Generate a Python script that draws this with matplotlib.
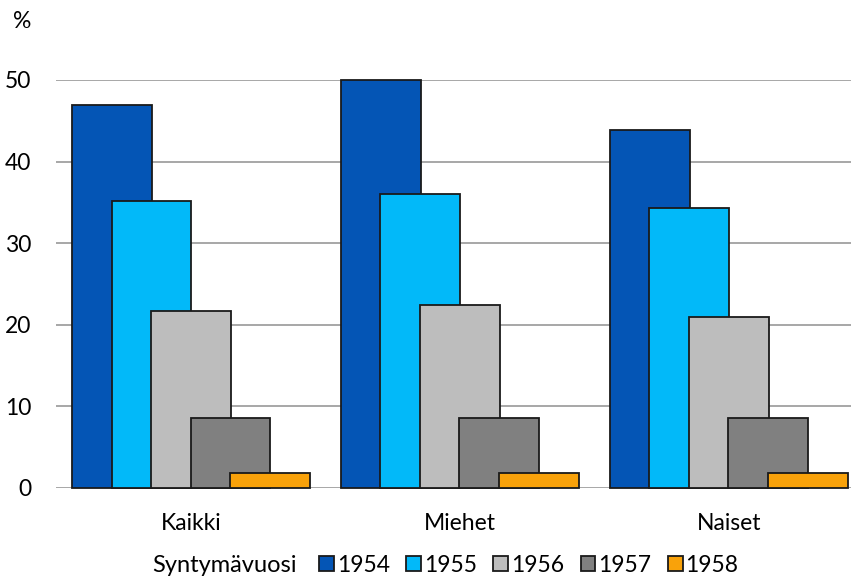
import numpy as np
import matplotlib.pyplot as plt

plt.rcParams['font.family'] = ['Lato', 'DejaVu Sans']

# data
groups = ['Kaikki', 'Miehet', 'Naiset']
years = ['1954', '1955', '1956', '1957', '1958']
vals_1954 = [46.9, 50.0, 43.9]
vals_1955 = [35.2, 36.0, 34.3]
vals_1956 = [21.7, 22.4, 21.0]
vals_1957 = [8.6, 8.6, 8.6]
vals_1958 = [1.8, 1.8, 1.8]
colors = ['#0455B5', '#02B9F9', '#BDBDBD', '#808080', '#F9A20A']

series = [vals_1954, vals_1955, vals_1956, vals_1957, vals_1958]
fs = 16.5

fig = plt.figure(figsize=(8.52, 5.78), dpi=100)
ax = fig.add_axes([56 / 852, 90 / 578, (851 - 56) / 852, (488 - 80) / 578])

x = np.arange(len(groups))
width = 0.297
step = 0.147

# later bars drawn on top of earlier ones (overlapping)
for i, (vals, col, yr) in enumerate(zip(series, colors, years)):
    ax.bar(x + (i - 2) * step, vals, width=width, color=col, edgecolor='#1a1a1a',
           linewidth=1.3, label=yr, zorder=3 + i, clip_on=False)

ax.set_xlim(-0.502, 2.455)
ax.set_ylim(0, 50)
ax.set_yticks([0, 10, 20, 30, 40, 50])
ax.yaxis.grid(True, color='#a0a0a0', linewidth=1.3, zorder=0)
ax.set_xticks(x)
ax.set_xticklabels(groups)
ax.tick_params(axis='both', length=0, labelsize=fs)
ax.tick_params(axis='y', pad=18)
ax.tick_params(axis='x', pad=18)
for s in ax.spines.values():
    s.set_visible(False)

fig.text(13 / 852, 1 - 22 / 578, '%', fontsize=fs, va='center', ha='left')

fig.text(152 / 852, 1 - 565 / 578, 'Syntymävuosi', fontsize=17, va='center', ha='left')
leg = fig.legend(loc='center left', bbox_to_anchor=(319 / 852, 1 - 565 / 578), ncol=5,
                 frameon=False, fontsize=fs, handlelength=0.65, handleheight=0.65,
                 handletextpad=0.12, columnspacing=0.72, borderaxespad=0, borderpad=0)

fig.savefig('out.png', dpi=100)
